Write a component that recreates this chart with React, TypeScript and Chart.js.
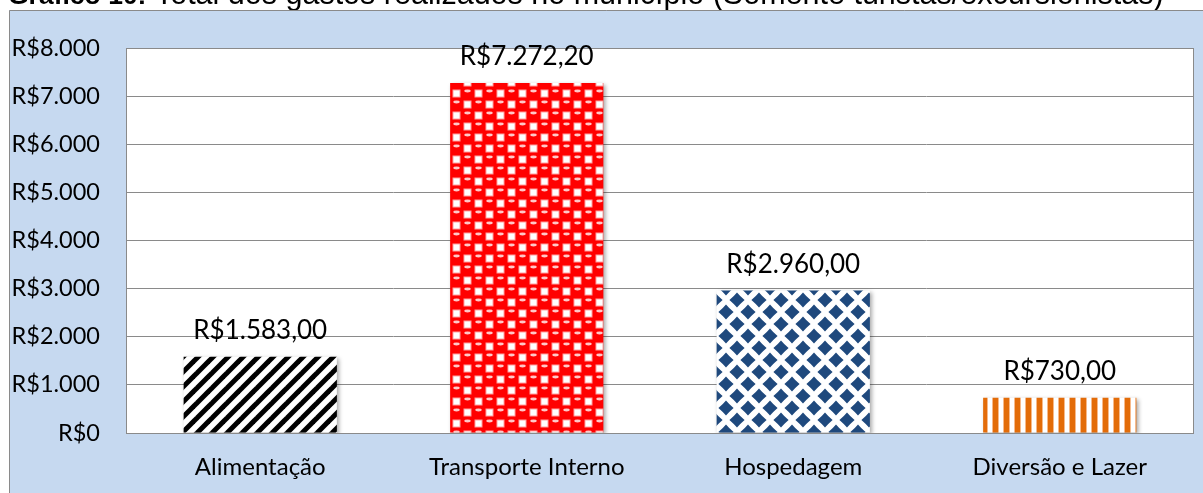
import React, { useEffect, useRef } from "react";
import { Chart, registerables } from "chart.js";

Chart.register(...registerables);

// ---- data ----
const categories = ["Alimentação", "Transporte Interno", "Hospedagem", "Diversão e Lazer"];
const gastos = [1583.0, 7272.2, 2960.0, 730.0];
const yMin = 0;
const yMax = 8000;
const yStep = 1000;
const titleBold = "Gráfico 10:";
const titleRest = " Total dos gastos realizados no município (Somente turistas/excursionistas)";

const FONT = "Lato";
const X_SIZE = 24;
const Y_SIZE = 23.5;
const LABEL_SIZE = 26;

function brl(v: number, decimals: number): string {
  const fixed = v.toFixed(decimals);
  const parts = fixed.split(".");
  const intFmt = parts[0].replace(/\B(?=(\d{3})+(?!\d))/g, ".");
  return "R$" + intFmt + (parts[1] ? "," + parts[1] : "");
}

function makeTile(w: number, h: number, draw: (c: CanvasRenderingContext2D) => void): CanvasPattern {
  const cv = document.createElement("canvas");
  cv.width = w;
  cv.height = h;
  const c = cv.getContext("2d")!;
  draw(c);
  return c.createPattern(cv, "repeat")!;
}

function stripesPattern(): CanvasPattern {
  const s = 15;
  return makeTile(s, s, (c) => {
    c.fillStyle = "#ffffff";
    c.fillRect(0, 0, s, s);
    c.strokeStyle = "#000000";
    c.lineWidth = 5;
    c.lineCap = "square";
    for (const off of [-s, 0, s]) {
      c.beginPath();
      c.moveTo(off - 2, s + 2);
      c.lineTo(off + s + 2, -2);
      c.stroke();
    }
  });
}

function redPattern(): CanvasPattern {
  const s = 22;
  const h = s / 2;
  return makeTile(s, s, (c) => {
    c.fillStyle = "#ff0000";
    c.fillRect(0, 0, s, s);
    for (const [x, y] of [[h, 0], [0, h]]) {
      c.fillStyle = "#ffa0a0";
      c.fillRect(x + 1.5, y + 1.5, h - 3, h - 3);
      c.fillStyle = "#ffffff";
      c.fillRect(x + 2.5, y + 2.5, h - 5, h - 5);
    }
    for (const [x, y] of [[0, 0], [h, h]]) {
      c.fillStyle = "#ff0000";
      c.beginPath();
      c.arc(x + h / 2, y + h / 2, h / 2, 0, Math.PI * 2);
      c.fill();
      c.fillStyle = "#ffc8c8";
      c.beginPath();
      c.ellipse(x + h / 2, y + h / 2 - 2.5, 3.2, 1.4, 0, 0, Math.PI * 2);
      c.fill();
    }
  });
}

function diamondPattern(): CanvasPattern {
  const w = 22;
  const hh = 24;
  return makeTile(w, hh, (c) => {
    c.fillStyle = "#ffffff";
    c.fillRect(0, 0, w, hh);
    c.fillStyle = "#1f497d";
    const r = 7.6;
    const k = 0.46;
    const diamond = (cx: number, cy: number) => {
      c.beginPath();
      c.moveTo(cx, cy - r);
      c.quadraticCurveTo(cx + r * k, cy - r * k, cx + r, cy);
      c.quadraticCurveTo(cx + r * k, cy + r * k, cx, cy + r);
      c.quadraticCurveTo(cx - r * k, cy + r * k, cx - r, cy);
      c.quadraticCurveTo(cx - r * k, cy - r * k, cx, cy - r);
      c.fill();
    };
    for (const [x, y] of [[0, 0], [w, 0], [0, hh], [w, hh], [w / 2, hh / 2]]) diamond(x, y);
  });
}

function orangePattern(): CanvasPattern {
  const w = 11;
  return makeTile(w, 2, (c) => {
    c.fillStyle = "#ffffff";
    c.fillRect(0, 0, w, 2);
    c.fillStyle = "#f6b98a";
    c.fillRect(2, 0, 1, 2);
    c.fillRect(8, 0, 1, 2);
    c.fillStyle = "#e36c09";
    c.fillRect(3, 0, 5, 2);
  });
}

const decorPlugin = {
  id: "decor",
  beforeDraw(chart: any) {
    const ctx = chart.ctx as CanvasRenderingContext2D;
    const W = chart.width;
    const H = chart.height;
    const a = chart.chartArea;
    ctx.save();
    ctx.fillStyle = "#ffffff";
    ctx.fillRect(0, 0, W, H);
    // title (cut off at the top)
    ctx.fillStyle = "#000000";
    ctx.textBaseline = "alphabetic";
    ctx.textAlign = "left";
    ctx.font = "bold 26.5px 'Liberation Sans'";
    ctx.fillText(titleBold, 8, 4);
    const bw = ctx.measureText(titleBold).width;
    ctx.font = "30.5px 'Liberation Sans'";
    ctx.fillText(titleRest, 8 + bw, 4);
    // blue frame
    ctx.fillStyle = "#c6d9f0";
    ctx.fillRect(9, 10, W - 9, H - 10);
    ctx.strokeStyle = "#8a8a8a";
    ctx.lineWidth = 1;
    ctx.beginPath();
    ctx.moveTo(9.5, H);
    ctx.lineTo(9.5, 10.5);
    ctx.lineTo(W, 10.5);
    ctx.stroke();
    // plot area
    ctx.fillStyle = "#ffffff";
    ctx.fillRect(a.left, a.top, a.right - a.left, a.bottom - a.top);
    ctx.strokeStyle = "#8a8a8a";
    ctx.strokeRect(Math.round(a.left) - 0.5, Math.round(a.top) + 0.5, Math.round(a.right - a.left) + 1, Math.round(a.bottom - a.top));
    ctx.restore();
  },
  beforeDatasetsDraw(chart: any) {
    const ctx = chart.ctx as CanvasRenderingContext2D;
    ctx.save();
    ctx.shadowColor = "rgba(0,0,0,0.35)";
    ctx.shadowBlur = 4;
    ctx.shadowOffsetX = 2;
    ctx.shadowOffsetY = 2;
  },
  afterDatasetsDraw(chart: any) {
    const ctx = chart.ctx as CanvasRenderingContext2D;
    ctx.restore();
    ctx.save();
    ctx.fillStyle = "#000000";
    ctx.font = `${LABEL_SIZE}px ${FONT}`;
    ctx.textAlign = "center";
    ctx.textBaseline = "middle";
    const meta = chart.getDatasetMeta(0);
    meta.data.forEach((bar: any, i: number) => {
      const v = chart.data.datasets[0].data[i] as number;
      ctx.fillText(brl(v, 2), bar.x, bar.y - 26);
    });
    ctx.restore();
  },
};

export default function App() {
  const ref = useRef<HTMLCanvasElement>(null);

  useEffect(() => {
    const canvas = ref.current!;
    const patterns = [stripesPattern(), redPattern(), diamondPattern(), orangePattern()];
    const chart = new Chart(canvas, {
      type: "bar",
      data: {
        labels: categories,
        datasets: [
          {
            data: gastos,
            backgroundColor: patterns as any,
            borderWidth: 0,
            barPercentage: 0.575,
            categoryPercentage: 1,
          },
        ],
      },
      options: {
        animation: false,
        responsive: false,
        devicePixelRatio: 1,
        layout: { padding: { top: 48, right: 10, bottom: 0, left: 0 } },
        plugins: {
          legend: { display: false },
          tooltip: { enabled: false },
          title: { display: false },
        },
        scales: {
          x: {
            grid: { display: false, drawTicks: false },
            border: { display: false },
            ticks: { font: { family: FONT, size: X_SIZE }, color: "#000000", padding: 20 },
            afterFit: (s: any) => {
              s.height = 60;
            },
          },
          y: {
            min: yMin,
            max: yMax,
            grid: { color: "#8a8a8a", lineWidth: 1, drawTicks: false },
            border: { display: false },
            ticks: {
              stepSize: yStep,
              font: { family: FONT, size: Y_SIZE },
              color: "#000000",
              padding: 27,
              callback: (v: any) => brl(Number(v), 0),
            },
            afterFit: (s: any) => {
              s.width = 127;
            },
          },
        },
      },
      plugins: [decorPlugin],
    });
    return () => chart.destroy();
  }, []);

  return (
    <canvas
      ref={ref}
      width={1203}
      height={493}
      style={{ position: "fixed", left: 0, top: 0, width: 1203, height: 493 }}
    />
  );
}
